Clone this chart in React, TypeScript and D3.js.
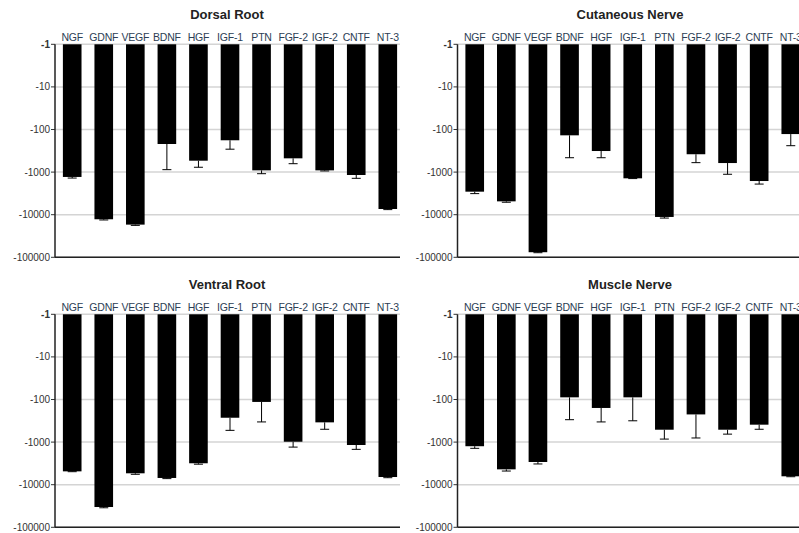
import React from "react";
import * as d3 from "d3";

const categories = ["NGF", "GDNF", "VEGF", "BDNF", "HGF", "IGF-1", "PTN", "FGF-2", "IGF-2", "CNTF", "NT-3"];
const tickValues = [-1, -10, -100, -1000, -10000, -100000];

const dorsalValues = [-1300, -12800, -17100, -219, -540, -179, -910, -475, -910, -1170, -7350];
const dorsalErrors = [-1380, -13300, -17800, -877, -770, -290, -1090, -635, -940, -1400, -7600];

const cutaneousValues = [-2880, -4860, -76000, -137, -320, -1400, -11300, -381, -613, -1620, -128];
const cutaneousErrors = [-3200, -5100, -78000, -460, -460, -1420, -12000, -600, -1125, -1910, -240];

const ventralValues = [-4860, -33400, -5400, -6950, -3140, -268, -114, -980, -344, -1170, -6600];
const ventralErrors = [-4950, -34800, -5700, -7200, -3300, -530, -336, -1310, -500, -1480, -6850];

const muscleValues = [-1250, -4360, -2930, -89, -158, -89, -512, -224, -512, -390, -6350];
const muscleErrors = [-1400, -4780, -3260, -298, -336, -316, -850, -800, -650, -500, -6500];

const panelTitles = ["Dorsal Root", "Cutaneous Nerve", "Ventral Root", "Muscle Nerve"];

type PanelProps = {
  title: string;
  values: number[];
  errors: number[];
  x0: number;
  x1: number;
  clipRight: number;
  y0: number;
  titleX: number;
};

function Panel({ title, values, errors, x0, x1, clipRight, y0, titleX }: PanelProps) {
  const y = d3.scaleLog().domain([1, 100000]).range([y0, y0 + 213]);
  const x = d3.scaleBand<string>().domain(categories).range([x0, x1]).paddingInner(0.41).paddingOuter(0.25);
  const bw = x.bandwidth();
  const yBottom = y(100000);
  return (
    <g>
      <text x={titleX} y={y0 - 25} textAnchor="middle" fontFamily="Liberation Sans, Arial, sans-serif" fontSize={13} fontWeight="bold" fill="#222">
        {title}
      </text>
      {tickValues.map((t) => (
        <line key={"g" + t} x1={x0} x2={clipRight} y1={y(-t)} y2={y(-t)} stroke="#d4d4d4" strokeWidth={1.5} />
      ))}
      {tickValues.map((t) => (
        <g key={"t" + t}>
          <line x1={x0 - 4} x2={x0} y1={y(-t)} y2={y(-t)} stroke="#333" strokeWidth={1} />
          <text x={x0 - 5} y={y(-t) + 3.5} textAnchor="end" fontFamily="Liberation Sans, Arial, sans-serif" fontSize={10} fontWeight={t === -1 ? "bold" : "normal"} fill="#333">
            {t}
          </text>
        </g>
      ))}
      {categories.map((c, i) => {
        const bx = x(c)!;
        const cx = bx + bw / 2;
        const vb = y(-values[i]);
        const eb = y(-errors[i]);
        return (
          <g key={c}>
            <text x={cx} y={y0 - 3.5} textAnchor="middle" fontFamily="Liberation Sans, Arial, sans-serif" fontSize={10.5} letterSpacing={-0.2} fill="#2c3e55">
              {c}
            </text>
            <rect x={bx} y={y0} width={bw} height={vb - y0} fill="#000" />
            <line x1={cx} x2={cx} y1={vb} y2={eb} stroke="#000" strokeWidth={1} />
            <line x1={cx - 4.5} x2={cx + 4.5} y1={eb} y2={eb} stroke="#000" strokeWidth={1} />
          </g>
        );
      })}
      <line x1={x0} x2={x0} y1={y0} y2={yBottom} stroke="#222" strokeWidth={1.5} />
      <line x1={x0} x2={clipRight} y1={yBottom} y2={yBottom} stroke="#222" strokeWidth={1.5} />
    </g>
  );
}

export default function App() {
  const panels = [
    { values: dorsalValues, errors: dorsalErrors, x0: 55, x1: 405, clipRight: 400, y0: 44.3, titleX: 227 },
    { values: cutaneousValues, errors: cutaneousErrors, x0: 457.5, x1: 808, clipRight: 799, y0: 44.3, titleX: 630 },
    { values: ventralValues, errors: ventralErrors, x0: 55, x1: 405, clipRight: 400, y0: 314.3, titleX: 227 },
    { values: muscleValues, errors: muscleErrors, x0: 457.5, x1: 808, clipRight: 799, y0: 314.3, titleX: 630 },
  ];
  return (
    <svg width={799} height={533} style={{ position: "absolute", left: 0, top: 0, background: "#fff" }}>
      <rect width={799} height={533} fill="#fff" />
      {panels.map((p, i) => (
        <Panel key={i} title={panelTitles[i]} {...p} />
      ))}
    </svg>
  );
}
